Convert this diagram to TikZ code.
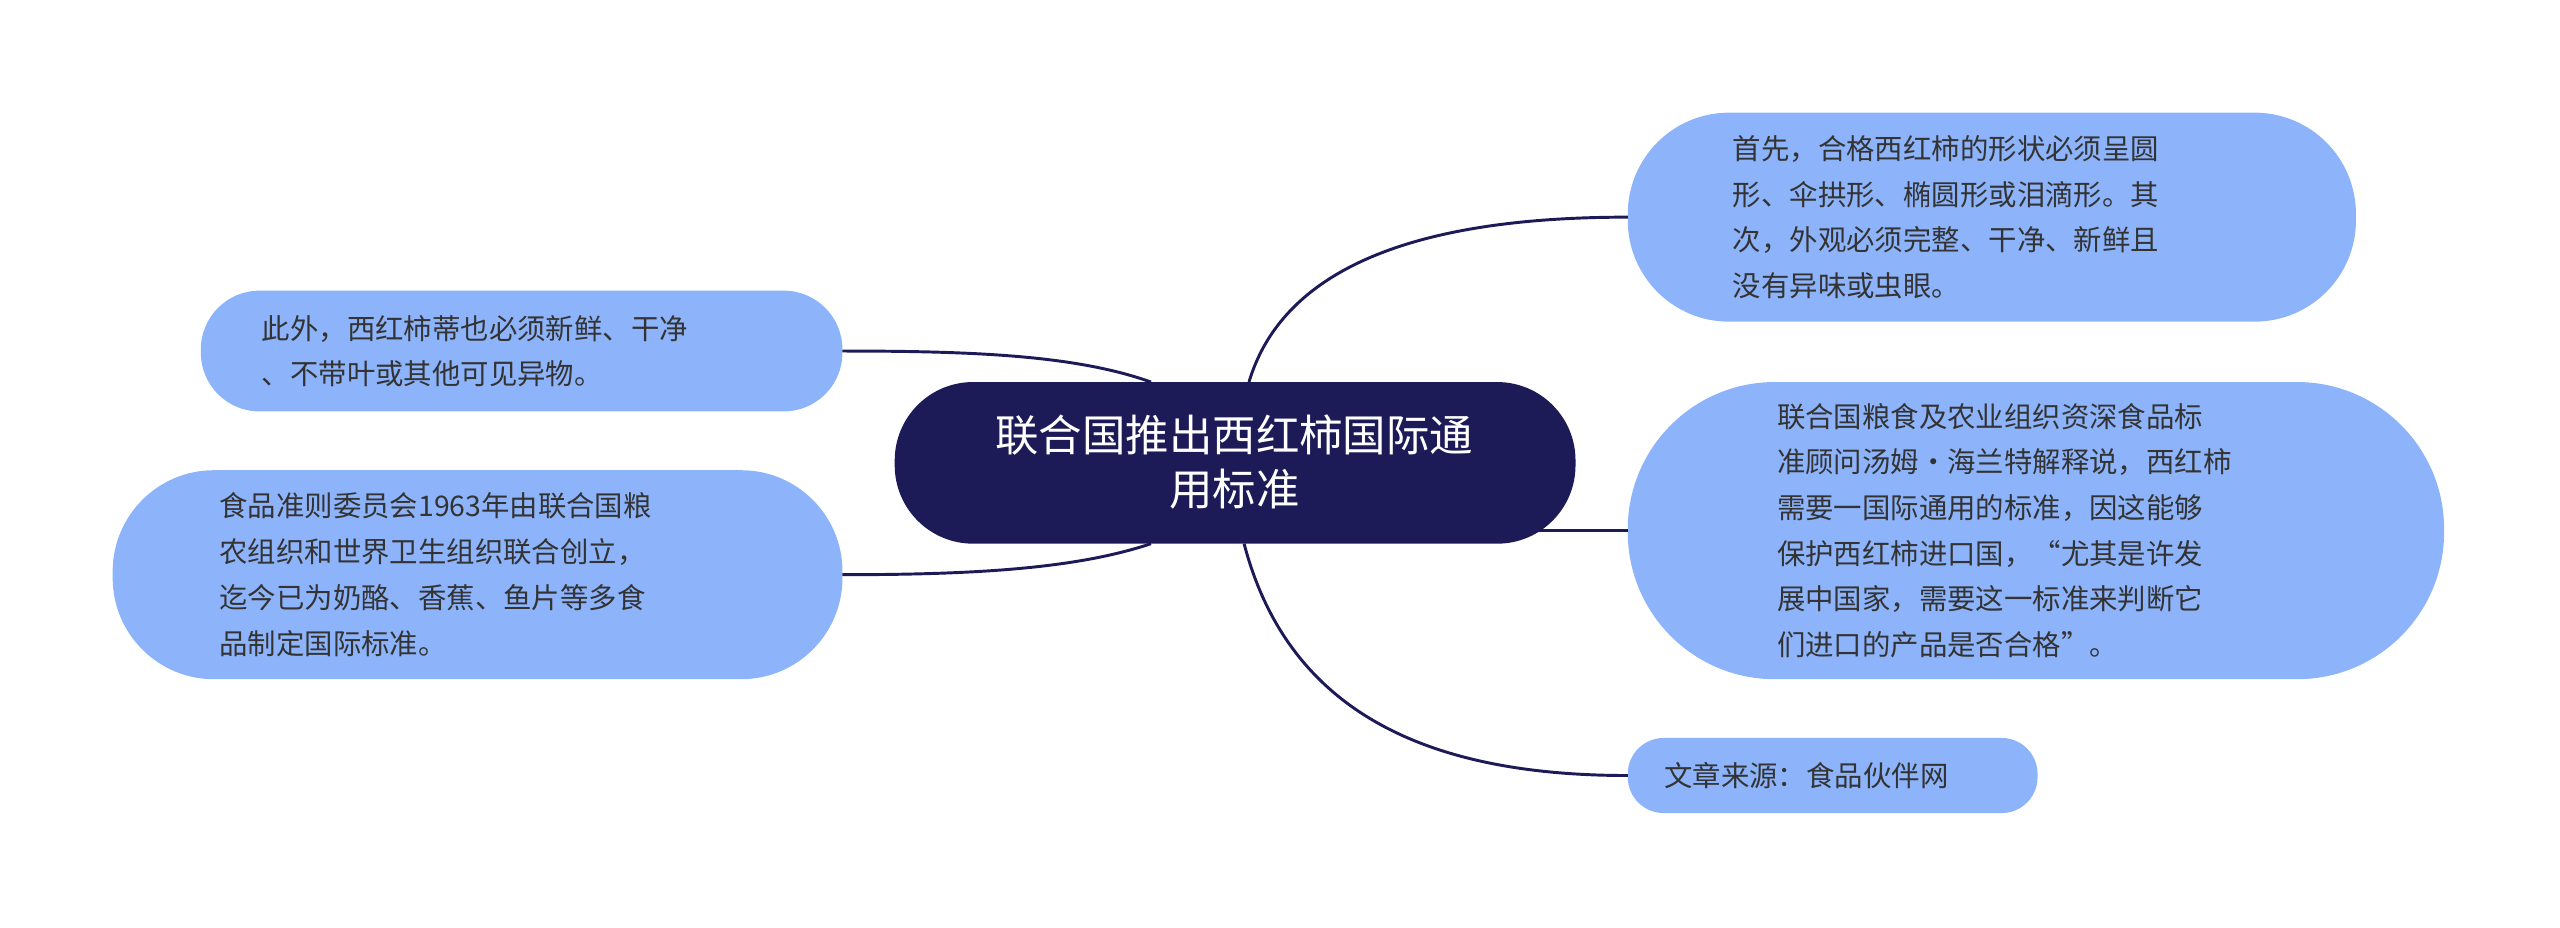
\documentclass[tikz,border=0pt]{standalone}
\usepackage{fontspec}
\newfontfamily\cjk{Noto Sans CJK SC}
\definecolor{leaf}{HTML}{8DB4FB}
\definecolor{root}{HTML}{1C1A57}
\definecolor{txt}{HTML}{333333}
\begin{document}
\begin{tikzpicture}[x=0.5pt,y=-0.5pt,
  leaftext/.style={text=txt,font=\cjk\fontsize{8.7}{14}\selectfont,align=left,inner sep=0pt},
  link/.style={draw=root,line width=0.9pt}]
\useasboundingbox (0,0) rectangle (1568,568);
% boxes
\fill[root,rounded corners=24pt] (548,234) rectangle (965,333);
\node[text=white,font=\cjk\fontsize{13.3}{16.5}\selectfont,align=center] (c) at (756,283) {联合国推出西红柿国际通\\用标准};
\fill[leaf,rounded corners=31pt] (997,69) rectangle (1443,197);
\node[leaftext,anchor=west] (r1) at (1061,133) {首先，合格西红柿的形状必须呈圆\\形、伞拱形、椭圆形或泪滴形。其\\次，外观必须完整、干净、新鲜且\\没有异味或虫眼。};
\fill[leaf,rounded corners=45pt] (997,234) rectangle (1497,416);
\node[leaftext,anchor=west] (r2) at (1088,325) {联合国粮食及农业组织资深食品标\\准顾问汤姆·海兰特解释说，西红柿\\需要一国际通用的标准，因这能够\\保护西红柿进口国，“尤其是许发\\展中国家，需要这一标准来判断它\\们进口的产品是否合格”。};
\fill[leaf,rounded corners=11pt] (997,452) rectangle (1248,498);
\node[leaftext,anchor=west] (r3) at (1019,475) {文章来源：食品伙伴网};
\fill[leaf,rounded corners=18pt] (123,178) rectangle (516,252);
\node[leaftext,anchor=west] (l1) at (160,215) {此外，西红柿蒂也必须新鲜、干净\\、不带叶或其他可见异物。};
\fill[leaf,rounded corners=31pt] (69,288) rectangle (516,416);
\node[leaftext,anchor=west] (l2) at (134,352) {食品准则委员会1963年由联合国粮\\农组织和世界卫生组织联合创立，\\迄今已为奶酪、香蕉、鱼片等多食\\品制定国际标准。};
% anchors
\coordinate (a1) at (997,133);
\coordinate (a2) at (997,325);
\coordinate (a3) at (997,475);
\coordinate (b1) at (516,215);
\coordinate (b2) at (516,352);
% connectors
\draw[link] (765,234) .. controls (790,150) and (900,133) .. (a1);
\draw[link] (940,325) -- (a2);
\draw[link] (762,333) .. controls (790,440) and (880,475) .. (a3);
\draw[link] (705,234) .. controls (660,218) and (600,215) .. (b1);
\draw[link] (705,333) .. controls (660,348) and (600,352) .. (b2);
\end{tikzpicture}
\end{document}
